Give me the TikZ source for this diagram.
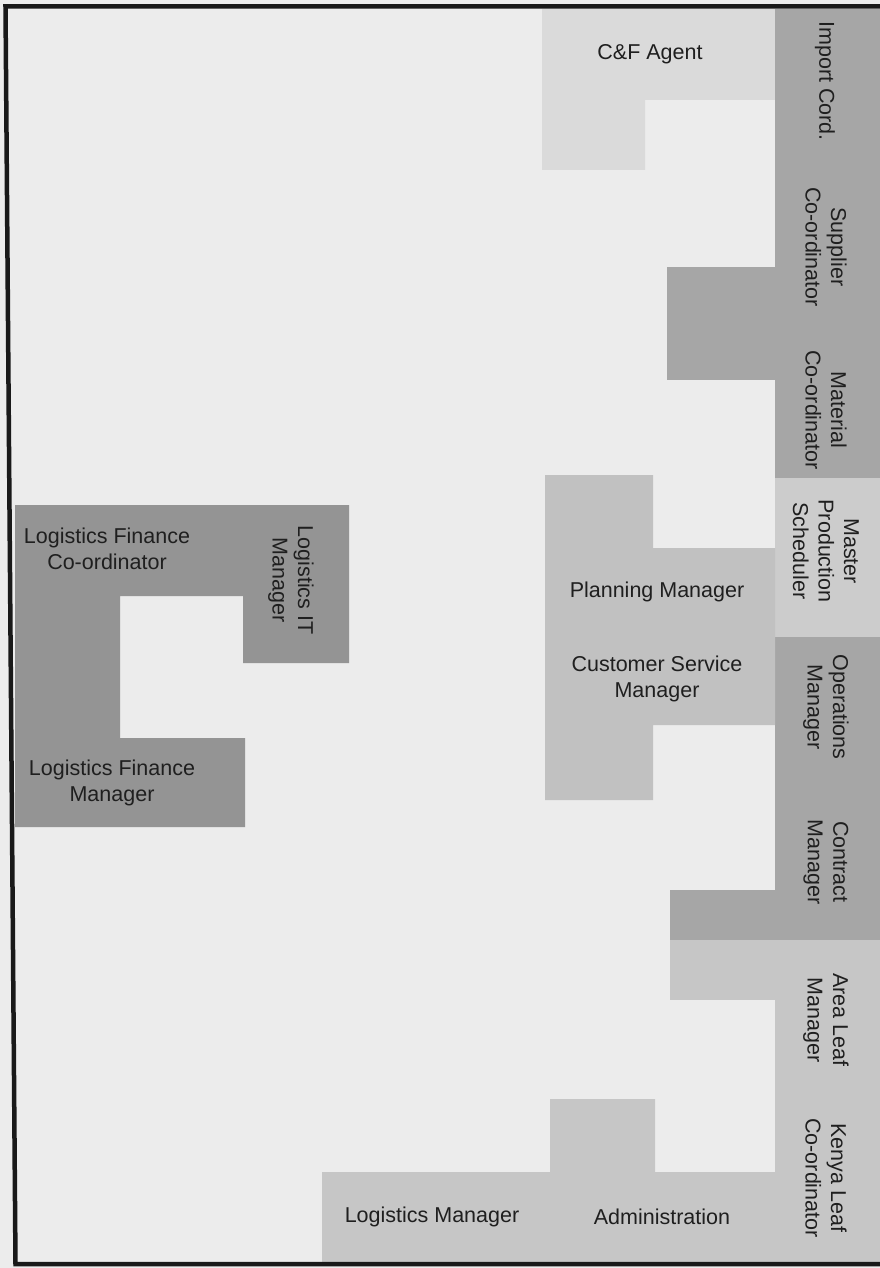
\documentclass[tikz,border=0pt]{standalone}
\usepackage{fontspec}
\setmainfont{Liberation Sans}
\definecolor{paper}{gray}{0.925}
\definecolor{cftone}{gray}{0.855}
\definecolor{columndark}{gray}{0.65}
\definecolor{columnlight}{gray}{0.80}
\definecolor{midtone}{gray}{0.755}
\definecolor{basetone}{gray}{0.775}
\definecolor{financetone}{gray}{0.58}
\definecolor{ink}{gray}{0.12}
\begin{document}
\begin{tikzpicture}[x=1pt,y=-1pt,
  lbl/.style={font=\fontsize{21.5}{25.5}\selectfont, text=ink, align=center, inner sep=0pt},
  vlbl/.style={lbl, rotate=-90},
  frameline/.style={draw=black!90, line width=4.5pt, line join=miter}]
\useasboundingbox (0,0) rectangle (880,1268);
\fill[paper] (0,0) rectangle (880,1268);

% C&F office
\fill[cftone] (542,9) -- (775,9) -- (775,100) -- (645,100) -- (645,170) -- (542,170) -- cycle;

% right-hand strip of offices
\fill[columndark] (775,9) rectangle (880,478);
\fill[columndark] (667,267) rectangle (775,380);
\fill[columnlight] (775,478) rectangle (880,637);
\fill[columndark] (775,637) rectangle (880,940);
\fill[columndark] (670,890) rectangle (775,940);
\fill[basetone] (775,940) rectangle (880,1262);
\fill[basetone] (670,940) rectangle (775,1000);

% planning / customer service block
\fill[midtone] (545,475) -- (653,475) -- (653,548) -- (775,548) -- (775,725)
  -- (653,725) -- (653,800) -- (545,800) -- cycle;

% logistics manager and administration
\fill[basetone] (322,1172) -- (550,1172) -- (550,1099) -- (655,1099) -- (655,1172)
  -- (775,1172) -- (775,1262) -- (322,1262) -- cycle;

% logistics finance block
\fill[financetone] (15,505) -- (349,505) -- (349,663) -- (243,663) -- (243,596)
  -- (120,596) -- (120,738) -- (245,738) -- (245,827) -- (15,827) -- cycle;

% outer frame
\draw[frameline] (880,6.5) -- (5.5,6.5) -- (15.5,1264) -- (880,1264);

% labels
\node[lbl] (cfagent) at (650,54) {C\&F Agent};
\node[vlbl] (importcord) at (825,81) {Import Cord.};
\node[vlbl] (supplier) at (826,247) {Supplier\\Co-ordinator};
\node[vlbl] (material) at (826,410) {Material\\Co-ordinator};
\node[vlbl] (mps) at (826,551) {Master\\Production\\Scheduler};
\node[vlbl] (operations) at (826,707) {Operations\\Manager};
\node[vlbl] (contract) at (826,862) {Contract\\Manager};
\node[vlbl] (arealeaf) at (826,1020) {Area Leaf\\Manager};
\node[vlbl] (kenyaleaf) at (826,1178) {Kenya Leaf\\Co-ordinator};
\node[lbl] (planning) at (657,592) {Planning Manager};
\node[lbl] (customer) at (657,679) {Customer Service\\Manager};
\node[lbl] (logmgr) at (432,1217) {Logistics Manager};
\node[lbl] (admin) at (662,1217) {Administration};
\node[lbl] (lfcoord) at (107,549) {Logistics Finance\\Co-ordinator};
\node[vlbl] (itmgr) at (291,580) {Logistics IT\\Manager};
\node[lbl] (lfmgr) at (112,783) {Logistics Finance\\Manager};
\end{tikzpicture}
\end{document}
